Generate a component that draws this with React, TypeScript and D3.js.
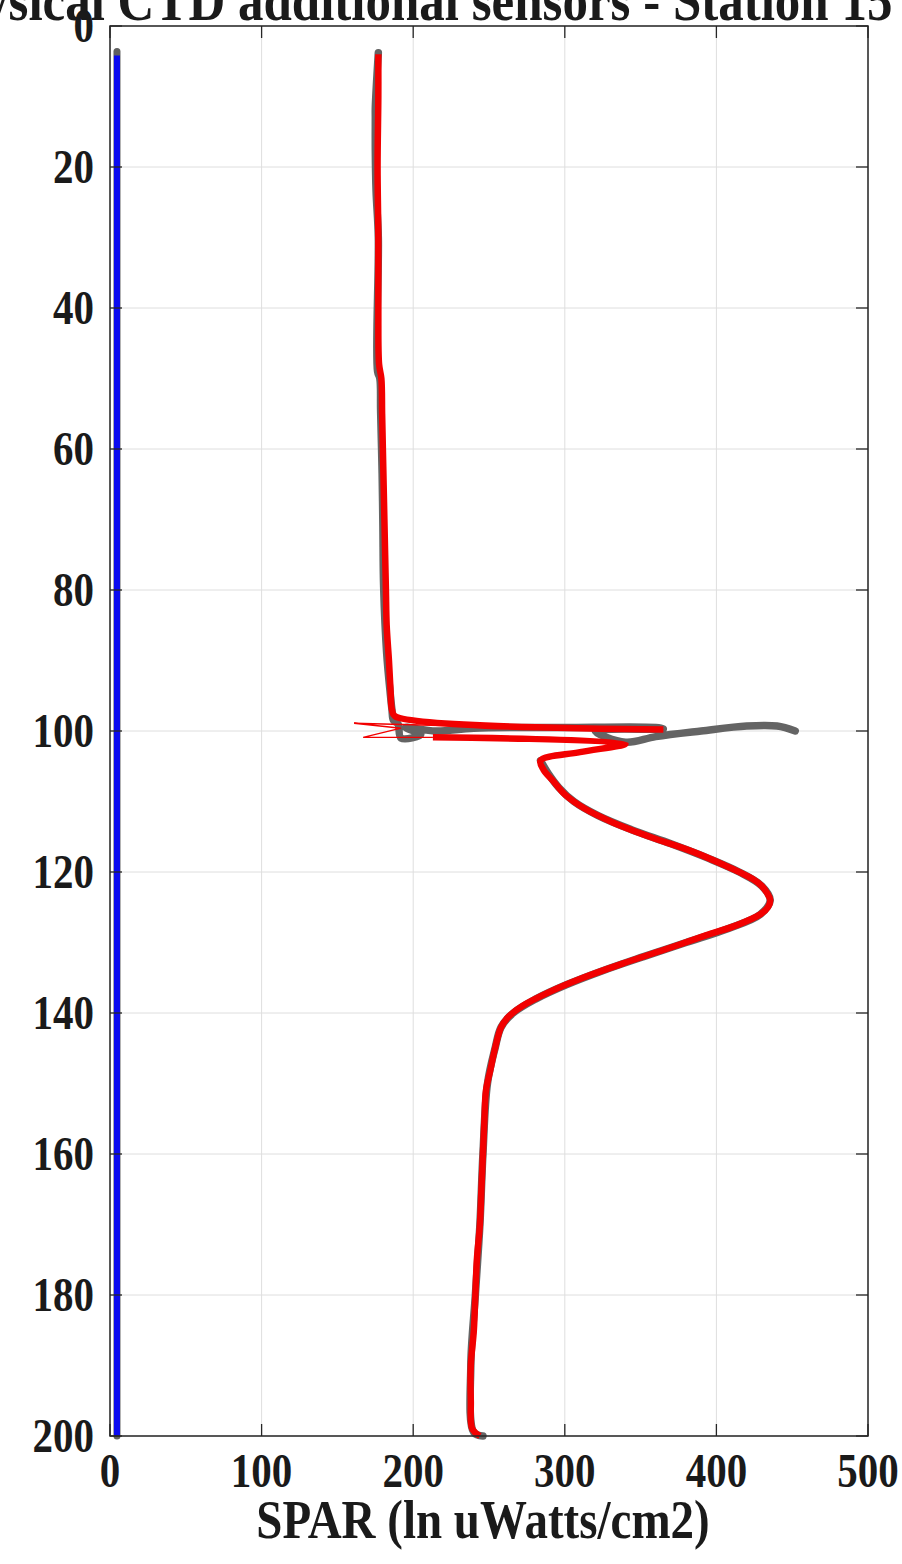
import * as React from 'react';
import * as d3 from 'd3';

const W = 902;
const H = 1564;

const xTicks = [0, 100, 200, 300, 400, 500];
const yTicks = [0, 20, 40, 60, 80, 100, 120, 140, 160, 180, 200];

const title = 'Physical CTD additional sensors - Station 15';
const xLabel = 'SPAR (ln uWatts/cm2)';

// processed SPAR (red), NaN = gap in the line
const redDepth = [4, 10, 20, 30, 40, 48, 50, 55, 60, 65, 70, 75, 80, 85, 90, 94, 97, 97.9, 99.8, NaN,
  100.9, 101.8, 103.0, 104.2, 105.5, 107, 109, 111, 113, 115, 117, 119, 121, 122, 123, 124, 125, 126, 127.5, 129,
  131, 133, 135, 137, 139, 140.5, 142, 145, 148, 151, 155, 160, 165, 170, 175, 180, 185, 190, 195, 199, 200];
const redVal = [177, 177, 176.5, 177, 177, 177.5, 179, 179.5, 180, 180.5, 181, 181.5, 182, 182.5, 184, 185, 186, 188, 365, NaN,
  213, 340, 310, 284, 286, 292, 300, 313, 332, 356, 383, 405, 424, 430, 433.5, 435.5, 434, 429, 414, 393,
  366, 338, 312, 290, 272, 263, 258, 254, 251, 248, 247, 246, 245, 244, 242, 241, 240, 238, 238, 239, 244];

// thin red zigzag at the surface of the layer
const thinDepth = [99.8, 99.4, 98.9, 99.6, 100.9, 100.9];
const thinVal = [365, 250, 161, 192, 167, 213];

// raw SPAR (grey)
const grayDepth = [3.8, 11.6, 13, 17.7, 23.4, 30, 49, 50, 54.6, 63.5, 71, 79.6, 89, 95, 97, 98.5, 99, 101, 100.5, 99.5, 100, 99.6, 99.5, 99.5,
  99.7, 100, 101.6, 100.8, 100, 99.3, 99.3, 100, NaN,
  104.2, 106, 108, 110, 112, 114, 116, 118, 120, 122, 124, 126, 128, 130, 132, 134, 136, 138, 140, 142, 145, 150, 160, 170, 180, 190, 199.5, 200];
const grayVal = [177, 175, 175, 175, 175.5, 177, 176.5, 178, 178.5, 179.5, 180, 180.5, 182.5, 185, 186, 187, 190, 192, 205, 195, 215, 240, 300, 360,
  365, 320, 340, 360, 390, 420, 440, 452, NaN,
  284, 289, 296, 306, 322, 344, 370, 394, 415, 430, 435.5, 429, 408, 380, 352, 325, 301, 281, 266, 258, 254, 249, 246, 244, 241, 238, 240, 246];

// second sensor (blue) and its raw trace
const blueDepth = [4.2, 50, 100, 150, 200];
const blueVal = [4.6, 4.6, 4.6, 4.6, 4.6];
const blueRawDepth = [3.6, 200];
const blueRawVal = [4.6, 4.6];

const FONT = '"Liberation Serif", "Times New Roman", serif';

function T(props: { x: number; y: number; size: number; anchor: string; children: React.ReactNode; sy?: number }) {
  const sy = props.sy ?? 1.18;
  return (
    <text transform={`translate(${props.x},${props.y}) scale(1,${sy})`} fontFamily={FONT} fontWeight="bold"
      fontSize={props.size} textAnchor={props.anchor} fill="#1a1a1a">
      {props.children}
    </text>
  );
}

export default function App() {
  const left = 110, right = 868, top = 26, bottom = 1436;
  const x = d3.scaleLinear().domain([0, 500]).range([left, right]);
  const y = d3.scaleLinear().domain([0, 200]).range([top, bottom]);

  const mk = (ds: number[], vs: number[], smooth = false) => {
    const l = d3.line<number>()
      .defined(i => !isNaN(ds[i]) && !isNaN(vs[i]))
      .x(i => x(vs[i]))
      .y(i => y(ds[i]));
    if (smooth) l.curve(d3.curveCatmullRom.alpha(0.5));
    return l(d3.range(ds.length)) || '';
  };

  const tl = 12;

  return (
    <svg width={W} height={H} style={{ position: 'absolute', left: 0, top: 0, background: '#fff' }}>
      <rect width={W} height={H} fill="#fff" />
      <T x={408} y={20} size={51} anchor="middle">{title}</T>

      {xTicks.map(t => (
        <line key={'gx' + t} x1={x(t)} x2={x(t)} y1={top} y2={bottom} stroke="#dedede" strokeWidth={1} />
      ))}
      {yTicks.map(t => (
        <line key={'gy' + t} x1={left} x2={right} y1={y(t)} y2={y(t)} stroke="#dedede" strokeWidth={1} />
      ))}

      <path d={mk(blueRawDepth, blueRawVal)} fill="none" stroke="#606060" strokeWidth={7} strokeLinecap="round" />
      <path d={mk(blueDepth, blueVal)} fill="none" stroke="#0a0af0" strokeWidth={6} />

      <path d={mk(grayDepth, grayVal, true)} fill="none" stroke="#646464" strokeWidth={7.5} strokeLinecap="round" strokeLinejoin="round" />
      <path d={mk(thinDepth, thinVal)} fill="none" stroke="#f20000" strokeWidth={1.4} />
      <path d={mk(redDepth, redVal, true)} fill="none" stroke="#f20000" strokeWidth={6.5} strokeLinejoin="round" />

      {xTicks.map(t => (
        <g key={'tx' + t}>
          <line x1={x(t)} x2={x(t)} y1={bottom} y2={bottom - tl} stroke="#262626" strokeWidth={1.3} />
          <line x1={x(t)} x2={x(t)} y1={top} y2={top + tl} stroke="#262626" strokeWidth={1.3} />
          <T x={x(t)} y={bottom + 51} size={41} anchor="middle">{t}</T>
        </g>
      ))}
      {yTicks.map(t => (
        <g key={'ty' + t}>
          <line x1={left} x2={left + tl} y1={y(t)} y2={y(t)} stroke="#262626" strokeWidth={1.3} />
          <line x1={right} x2={right - tl} y1={y(t)} y2={y(t)} stroke="#262626" strokeWidth={1.3} />
          <T x={94} y={y(t) + 16} size={41} anchor="end">{t}</T>
        </g>
      ))}
      <rect x={left} y={top} width={right - left} height={bottom - top} fill="none" stroke="#262626" strokeWidth={1.5} />

      <T x={483} y={1538} size={47} anchor="middle">{xLabel}</T>
    </svg>
  );
}
